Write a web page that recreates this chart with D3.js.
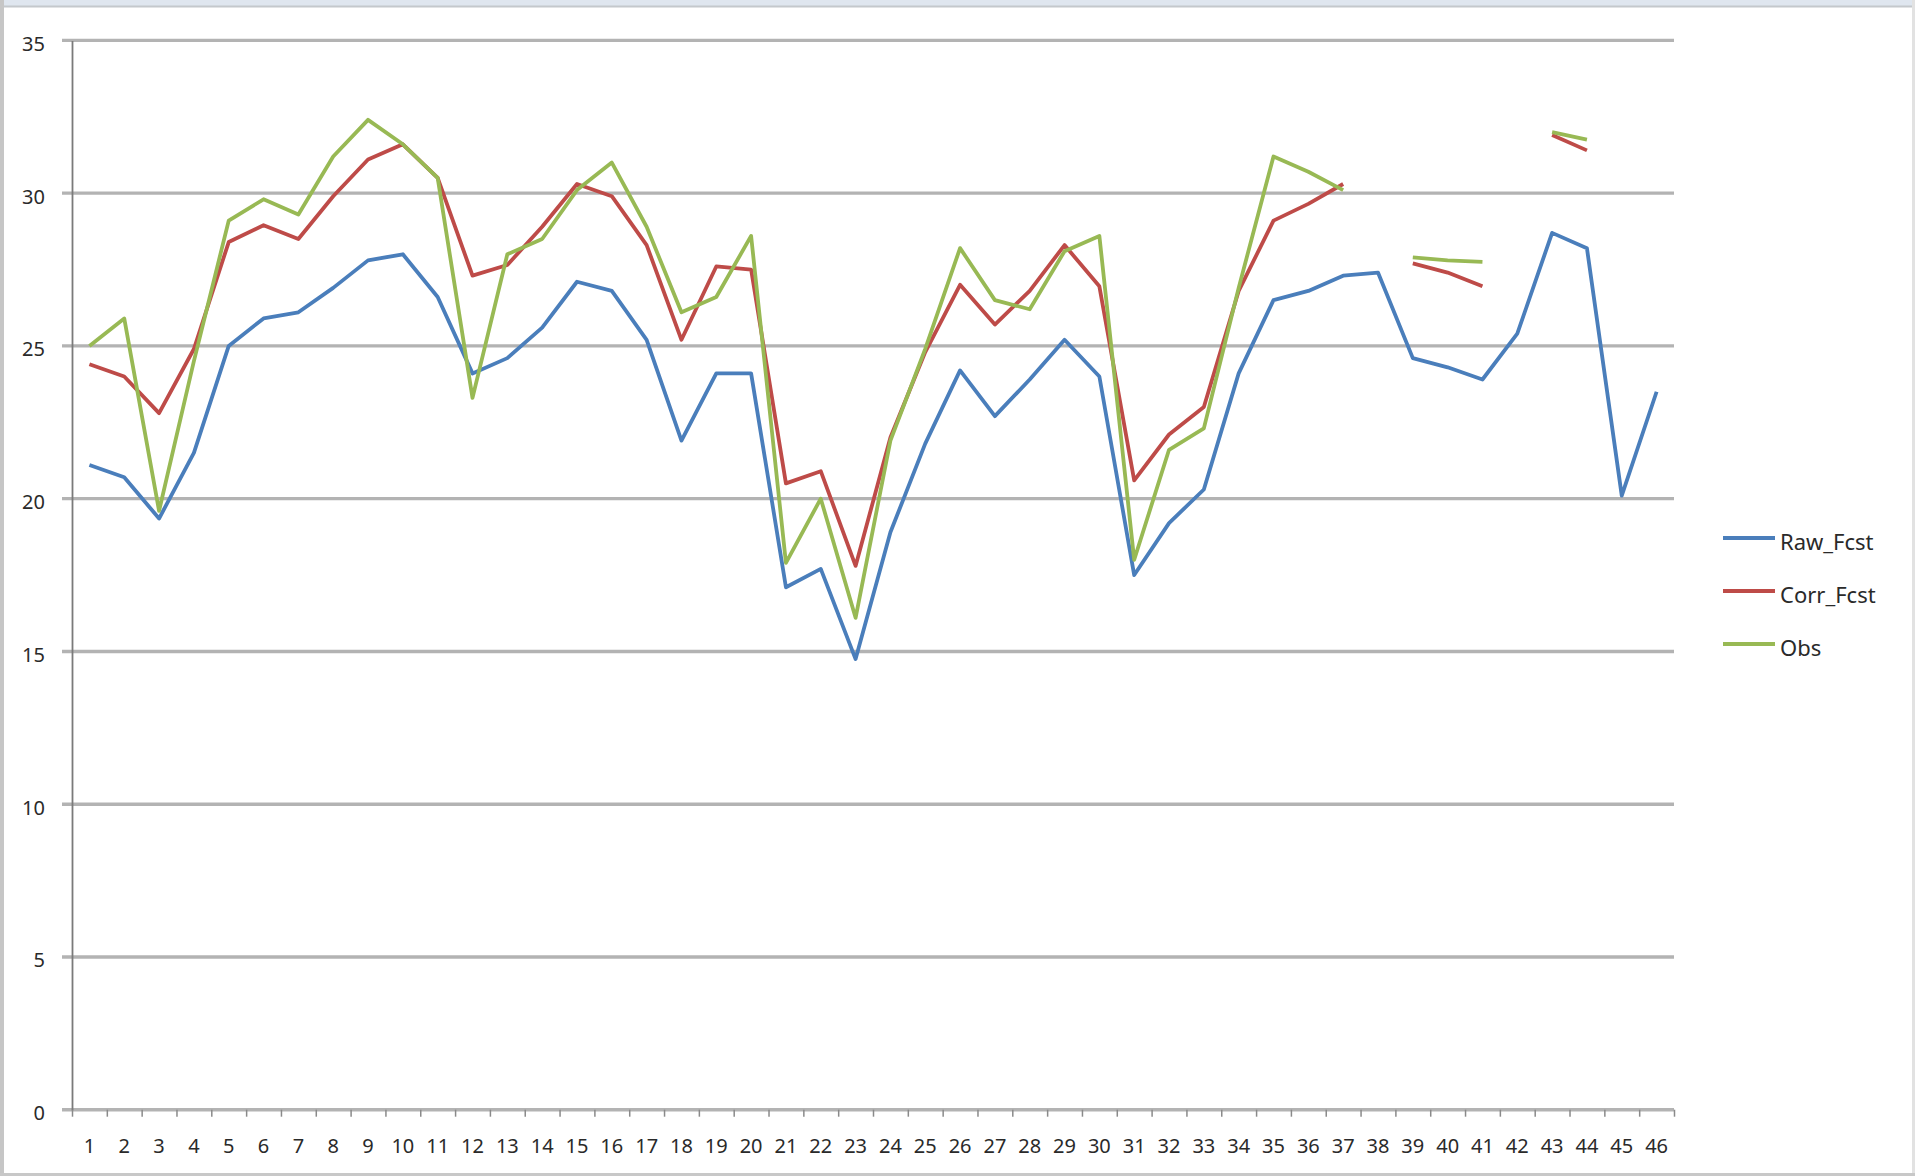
<!DOCTYPE html>
<html>
<head>
<meta charset="utf-8">
<script src="https://cdn.jsdelivr.net/npm/d3@7"></script>
<style>
  html, body { margin: 0; padding: 0; background: #ffffff; }
  svg { display: block; }
  text { font-family: "Noto Sans", "Open Sans", sans-serif; fill: #2a2a2a; }
</style>
</head>
<body>
<svg id="chart" width="1915" height="1176"></svg>
<script>
// Day index along the x axis
const categories = d3.range(1, 47).map(String);

// Series values (null = no data for that day)
const rawFcst = [21.1, 20.7, 19.35, 21.5, 25.0, 25.9, 26.1, 26.9, 27.8, 28.0,
                 26.6, 24.1, 24.6, 25.6, 27.1, 26.8, 25.2, 21.9, 24.1, 24.1,
                 17.1, 17.7, 14.75, 18.9, 21.8, 24.2, 22.7, 23.9, 25.2, 24.0,
                 17.5, 19.2, 20.3, 24.1, 26.5, 26.8, 27.3, 27.4, 24.6, 24.3,
                 23.9, 25.4, 28.7, 28.2, 20.1, 23.5];

const corrFcst = [24.4, 24.0, 22.8, 24.9, 28.4, 28.95, 28.5, 29.9, 31.1, 31.6,
                  30.5, 27.3, 27.65, 28.9, 30.3, 29.9, 28.3, 25.2, 27.6, 27.5,
                  20.5, 20.9, 17.8, 22.0, 24.8, 27.0, 25.7, 26.8, 28.3, 26.95,
                  20.6, 22.1, 23.0, 26.8, 29.1, 29.65, 30.3, null, 27.7, 27.4,
                  26.95, null, 31.9, 31.4, null, null];

const obs = [25.0, 25.9, 19.6, 24.5, 29.1, 29.8, 29.3, 31.2, 32.4, 31.6,
             30.5, 23.3, 28.0, 28.5, 30.1, 31.0, 28.9, 26.1, 26.6, 28.6,
             17.9, 20.0, 16.1, 21.9, 24.9, 28.2, 26.5, 26.2, 28.1, 28.6,
             18.0, 21.6, 22.3, 26.9, 31.2, 30.7, 30.1, null, 27.9, 27.8,
             27.75, null, 32.0, 31.75, null, null];

const seriesNames = ["Raw_Fcst", "Corr_Fcst", "Obs"];
const seriesColors = ["#4a7ebb", "#be4b48", "#98b954"];
const yTicks = [0, 5, 10, 15, 20, 25, 30, 35];

const series = [rawFcst, corrFcst, obs].map((values, i) => ({
  name: seriesNames[i],
  color: seriesColors[i],
  values: values
}));

const svg = d3.select("#chart");
const W = 1915, H = 1176;
const plot = { left: 72, right: 1674, top: 40.4, bottom: 1109.7 };

// Outer frame of the chart area
svg.append("rect").attr("x", 0).attr("y", 0).attr("width", W).attr("height", H).attr("fill", "#ffffff");
svg.append("rect").attr("x", 0).attr("y", 0).attr("width", W).attr("height", 6).attr("fill", "#dfe6ef");
svg.append("line").attr("x1", 0).attr("x2", W).attr("y1", 6.5).attr("y2", 6.5)
  .attr("stroke", "#c4c8cc").attr("stroke-width", 2);
svg.append("rect").attr("x", 0).attr("y", 0).attr("width", 4).attr("height", H).attr("fill", "#c6c6c6");
svg.append("rect").attr("x", W - 3).attr("y", 0).attr("width", 3).attr("height", H).attr("fill", "#e2e2e2");
svg.append("rect").attr("x", 0).attr("y", H - 3).attr("width", W).attr("height", 3).attr("fill", "#c8c8c8");

const x = d3.scaleBand().domain(categories).range([plot.left, plot.right]).padding(0);
const xEdge = d3.scaleLinear().domain([0, categories.length]).range([plot.left, plot.right]);
const y = d3.scaleLinear().domain([0, 35]).range([plot.bottom, plot.top]);

// Horizontal grid lines (extending a little left of the axis as tick marks)
svg.append("g").selectAll("line.grid").data(yTicks).join("line")
  .attr("class", "grid")
  .attr("x1", plot.left - 10).attr("x2", plot.right)
  .attr("y1", d => y(d)).attr("y2", d => y(d))
  .attr("stroke", "#b3b3b3").attr("stroke-width", 3.4);

// Y axis
const yAxis = svg.append("g").attr("transform", `translate(${plot.left},0)`)
  .call(d3.axisLeft(y).tickValues(yTicks).tickSize(0).tickPadding(27).tickFormat(d3.format("d")));
yAxis.select(".domain").attr("stroke", "#7a7a7a").attr("stroke-width", 1.8);
yAxis.selectAll("text").attr("font-size", 20).attr("dy", "0.5em").style("fill", "#2a2a2a")
  .style("font-family", "'Noto Sans', sans-serif");

// X axis: tick marks on the category boundaries
const xTicks = svg.append("g").attr("transform", `translate(0,${plot.bottom})`)
  .call(d3.axisBottom(xEdge).tickValues(d3.range(0, categories.length + 1)).tickSize(7).tickFormat(""));
xTicks.select(".domain").remove();
xTicks.selectAll("line").attr("stroke", "#8a8a8a").attr("stroke-width", 1.5);

// X axis: category labels centred in each band
const xAxis = svg.append("g").attr("transform", `translate(0,${plot.bottom})`)
  .call(d3.axisBottom(x).tickSize(0).tickPadding(29));
xAxis.select(".domain").remove();
xAxis.selectAll("text").attr("font-size", 20).style("fill", "#2a2a2a")
  .style("font-family", "'Noto Sans', sans-serif");

// Series lines
const line = d3.line()
  .defined(d => d.v !== null)
  .x(d => x(d.c) + x.bandwidth() / 2)
  .y(d => y(d.v));

svg.append("g").selectAll("path.series").data(series).join("path")
  .attr("class", "series")
  .attr("fill", "none")
  .attr("stroke", d => d.color)
  .attr("stroke-width", 3.8)
  .attr("stroke-linejoin", "round")
  .attr("stroke-linecap", "butt")
  .attr("d", d => line(d.values.map((v, i) => ({ c: categories[i], v: v }))));

// Legend
const legend = svg.append("g").attr("transform", "translate(1723,538)");
const item = legend.selectAll("g").data(series).join("g")
  .attr("transform", (d, i) => `translate(0,${i * 53})`);
item.append("line").attr("x1", 0).attr("x2", 52).attr("y1", 0).attr("y2", 0)
  .attr("stroke", d => d.color).attr("stroke-width", 4);
item.append("text").attr("x", 57).attr("y", 6).attr("dominant-baseline", "middle")
  .attr("font-size", 22).text(d => d.name);
</script>
</body>
</html>
